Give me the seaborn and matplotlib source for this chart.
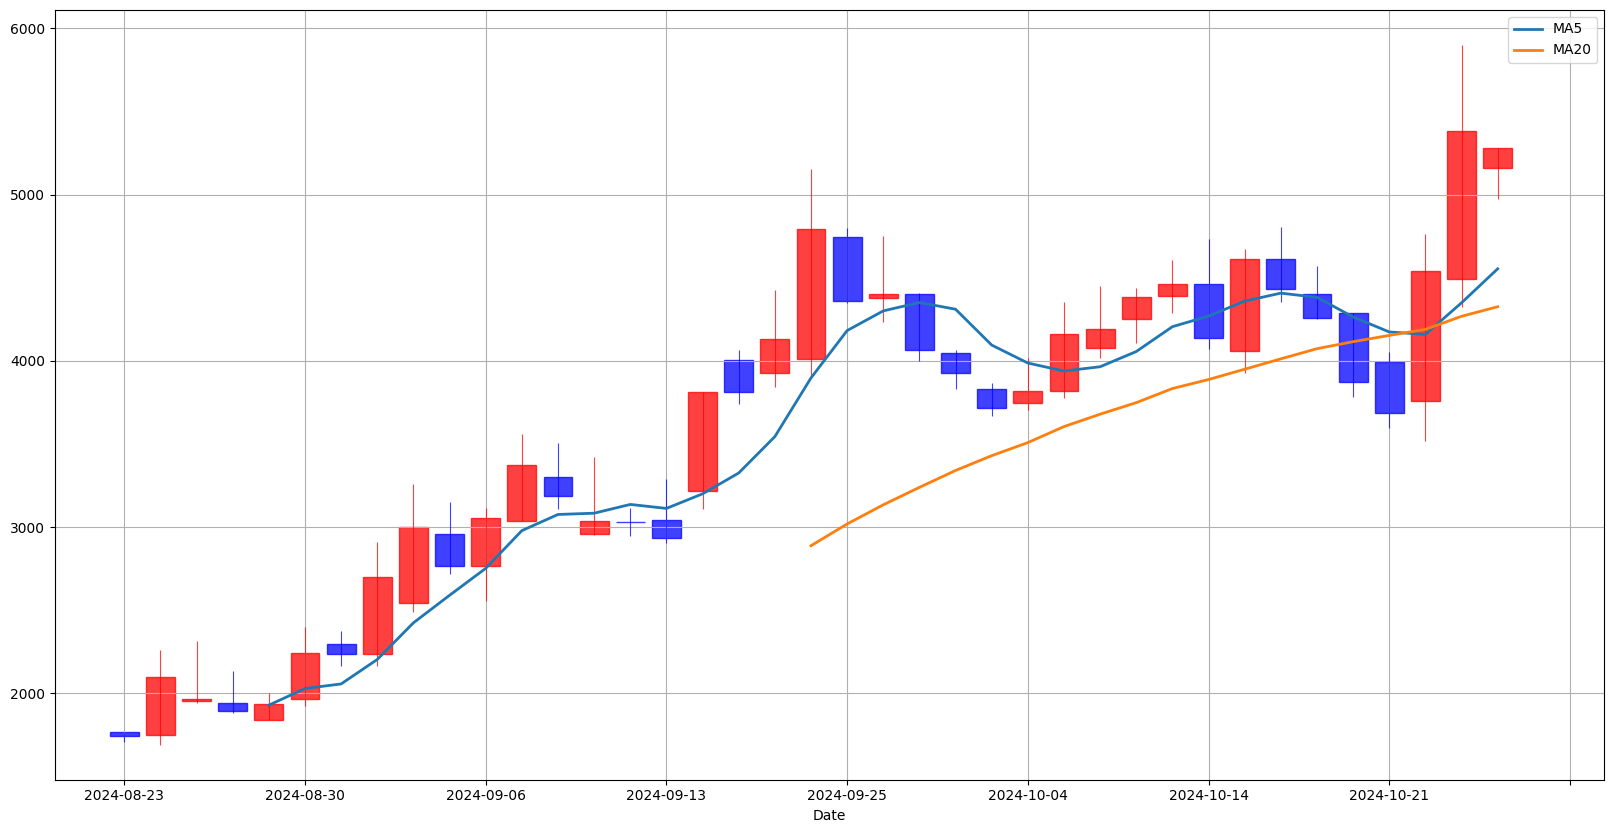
import matplotlib
matplotlib.use("Agg")
import matplotlib.pyplot as plt
from matplotlib.ticker import FuncFormatter
import seaborn as sns
import pandas as pd
import numpy as np

dates = ["2024-08-23", "2024-08-26", "2024-08-27", "2024-08-28", "2024-08-29",
         "2024-08-30", "2024-09-02", "2024-09-03", "2024-09-04", "2024-09-05",
         "2024-09-06", "2024-09-09", "2024-09-10", "2024-09-11", "2024-09-12",
         "2024-09-13", "2024-09-19", "2024-09-20", "2024-09-23", "2024-09-24",
         "2024-09-25", "2024-09-26", "2024-09-27", "2024-09-30", "2024-10-03",
         "2024-10-04", "2024-10-07", "2024-10-08", "2024-10-10", "2024-10-11",
         "2024-10-14", "2024-10-15", "2024-10-16", "2024-10-17", "2024-10-18",
         "2024-10-21", "2024-10-22", "2024-10-23", "2024-10-24"]

opens = [1764, 1746, 1954, 1944, 1842, 1968, 2298, 2238, 2544, 2958,
         2766, 3036, 3301, 2958, 3030, 3042, 3216, 4004, 3924, 4010,
         4747, 4378, 4404, 4048, 3831, 3747, 3819, 4076, 4253, 4392,
         4463, 4058, 4613, 4403, 4289, 3994, 3760, 4493, 5160]
closes = [1744, 2100, 1964, 1896, 1938, 2244, 2238, 2700, 2998, 2766,
          3054, 3373, 3186, 3036, 3030, 2934, 3812, 3812, 4130, 4795,
          4359, 4404, 4064, 3928, 3717, 3819, 4163, 4193, 4386, 4464,
          4138, 4613, 4433, 4259, 3874, 3687, 4541, 5383, 5281]
highs = [1764, 2258, 2312, 2132, 2000, 2396, 2372, 2912, 3260, 3152,
         3116, 3561, 3507, 3423, 3116, 3291, 3812, 4066, 4427, 5153,
         4797, 4749, 4410, 4062, 3867, 4018, 4351, 4448, 4436, 4604,
         4735, 4675, 4802, 4573, 4289, 4052, 4760, 5902, 5281]
lows = [1708, 1690, 1942, 1882, 1842, 1924, 2164, 2164, 2488, 2716,
        2554, 3036, 3106, 2950, 2944, 2902, 3106, 3737, 3840, 3908,
        4347, 4233, 3998, 3829, 3667, 3703, 3775, 4014, 4104, 4287,
        4068, 3926, 4351, 4251, 3782, 3595, 3517, 4325, 4976]

df = pd.DataFrame({"Date": dates, "Open": opens, "High": highs,
                   "Low": lows, "Close": closes})
df["idx"] = np.arange(len(df))
df["MA5"] = df["Close"].rolling(5).mean()
df["MA20"] = df["Close"].rolling(20).mean()

fig, ax = plt.subplots(figsize=(16.14, 8.33), dpi=100)
fig.subplots_adjust(left=0.034, right=0.994, top=0.988, bottom=0.064)

up = df["Close"] > df["Open"]
colors = np.where(up, "red", "blue")
bottoms = np.minimum(df["Open"], df["Close"])
heights = np.abs(df["Close"] - df["Open"])

ax.bar(df["idx"], heights, bottom=bottoms, width=0.8, color=colors,
       edgecolor=colors, alpha=0.75, linewidth=1)
ax.vlines(df["idx"], df["Low"], df["High"], colors=colors, linewidth=0.8,
          alpha=0.75)

sns.lineplot(data=df, x="idx", y="MA5", ax=ax, label="MA5", color="C0",
             linewidth=2)
sns.lineplot(data=df, x="idx", y="MA20", ax=ax, label="MA20", color="C1",
             linewidth=2)

ax.set_xlim(-1.92, 40.95)
ax.set_ylim(1480, 6110)
ax.set_xticks(np.arange(0, 41, 5))


def fmt(x, pos):
    i = int(round(x))
    if 0 <= i < len(dates):
        return dates[i]
    return ""


ax.xaxis.set_major_formatter(FuncFormatter(fmt))
ax.set_xlabel("Date")
ax.set_ylabel("")
ax.grid(True)
ax.legend(loc="upper right")

fig.savefig("out.png", dpi=100)
